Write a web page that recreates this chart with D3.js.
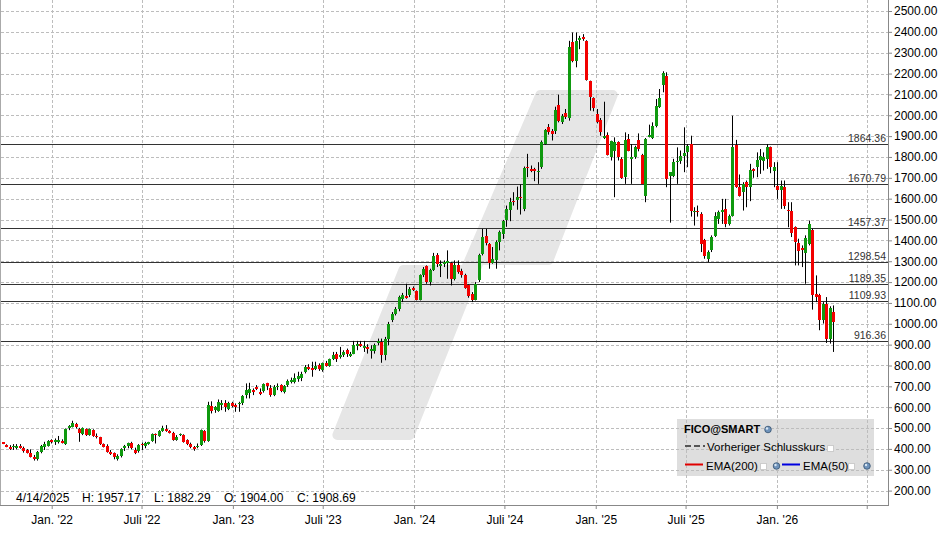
<!DOCTYPE html>
<html><head><meta charset="utf-8">
<script src="https://cdn.jsdelivr.net/npm/d3@7"></script>
<style>
body{margin:0;background:#fff}
svg{display:block;font-family:"Liberation Sans",Arial,Helvetica,sans-serif}
</style>
</head><body>
<svg id="c" width="948" height="534"></svg>
<script>
// ---------- data (weekly candles) ----------
const startDate = "2021-09-24";
const open = [
431,420,411,407,406,414,406,395,382,363,
353,385,411,415,442,433,434,438,423,500,
506,519,495,471,494,468,490,463,455,422,
415,387,379,351,366,404,415,426,395,391,
425,414,425,439,471,463,486,494,486,478,
442,465,466,442,423,411,407,419,486,439,
605,586,583,610,618,589,618,610,613,621,
658,666,682,698,675,679,714,693,658,698,
706,674,706,720,722,734,742,770,794,790,
784,802,778,813,798,830,857,841,849,873,
846,857,894,905,884,889,870,870,908,913,
852,929,1016,1045,1072,1120,1131,1136,1173,1155,
1115,1232,1275,1200,1256,1332,1275,1285,1291,1291,
1216,1280,1253,1232,1184,1144,1115,1208,1336,1423,
1384,1291,1307,1391,1431,1496,1548,1591,1594,1610,
1551,1754,1743,1743,1727,1751,1863,1946,1923,1923,
2051,1966,2012,1987,2352,2258,2360,2373,2354,2163,
2081,2006,1977,1891,1907,1802,1831,1870,1791,1703,
1886,1791,1799,1881,1811,1612,1898,1891,1948,2038,
2147,2190,1711,1711,1775,1783,1807,1822,1862,1535,
1543,1527,1400,1312,1352,1419,1503,1535,1551,1479,
1519,1859,1658,1631,1679,1655,1743,1751,1786,1783,
1791,1846,1735,1663,1642,1658,1547,1540,1463,1387,
1365,1339,1384,1448,1144,1136,1017,1093,929,1057];
const high = [
433,422,418,423,423,423,411,399,398,371,
390,419,434,442,446,450,462,446,498,514,
535,525,501,503,498,498,494,474,458,426,
422,395,383,374,403,419,430,434,406,423,
430,434,434,474,474,490,511,514,490,482,
466,474,470,446,430,414,426,493,490,626,
628,605,637,634,634,626,626,618,626,658,
714,717,690,706,690,714,717,706,706,714,
710,706,733,742,762,770,770,802,806,818,
818,810,814,822,833,865,865,889,873,881,
865,918,918,918,918,902,897,905,929,929,
937,1009,1056,1080,1135,1148,1192,1176,1179,1160,
1237,1272,1280,1264,1340,1339,1304,1304,1352,1296,
1304,1304,1264,1240,1189,1152,1200,1336,1455,1455,
1387,1368,1400,1447,1498,1567,1604,1631,1658,1668,
1754,1815,1759,1748,1775,1879,1934,1958,1934,2041,
2099,2006,2030,2357,2397,2397,2381,2389,2360,2166,
2086,2030,1987,2065,1918,1878,1894,1875,1799,1918,
1910,1862,1854,1913,1815,1891,1955,1966,2078,2126,
2211,2206,1727,1791,1846,1831,1942,1862,1902,1559,
1567,1535,1407,1352,1424,1535,1543,1599,1599,1524,
1998,1882,1716,1679,1687,1767,1746,1822,1838,1822,
1862,1850,1775,1775,1687,1687,1583,1583,1467,1408,
1376,1424,1495,1456,1232,1144,1104,1128,1084,1088];
const low = [
423,408,395,395,398,401,382,378,359,344,
344,379,395,411,426,419,426,426,419,490,
503,498,434,466,462,463,458,450,419,407,
382,371,350,344,359,390,403,398,375,382,
395,403,420,434,426,458,482,482,474,439,
439,462,430,418,403,391,403,414,430,434,
570,573,578,586,578,586,599,578,578,610,
642,642,658,682,658,670,682,650,653,682,
672,666,698,714,714,722,725,762,778,746,
778,774,770,794,794,826,817,833,841,841,
841,854,873,889,865,857,833,857,897,813,
825,897,1008,1040,1060,1104,1120,1128,1157,1112,
1112,1224,1192,1184,1253,1272,1224,1272,1216,1184,
1208,1240,1221,1168,1125,1104,1112,1200,1328,1376,
1264,1288,1264,1352,1407,1465,1492,1567,1547,1524,
1540,1703,1727,1684,1671,1743,1859,1907,1879,1910,
1966,1958,1982,1974,2254,2230,2317,2357,2166,2022,
2019,1961,1902,1886,1807,1783,1607,1783,1695,1671,
1827,1671,1791,1827,1671,1583,1894,1886,1942,2035,
2110,1655,1485,1703,1671,1767,1727,1751,1514,1471,
1514,1344,1312,1296,1344,1416,1479,1479,1463,1471,
1514,1652,1610,1543,1559,1588,1700,1703,1719,1735,
1743,1722,1655,1599,1551,1551,1463,1416,1280,1280,
1272,1192,1376,1068,1104,969,1001,908,905,865];
const close = [
425,411,399,414,414,406,390,382,363,351,
387,414,422,438,434,442,442,430,494,510,
522,503,474,498,468,494,463,455,423,411,
387,375,359,367,398,414,426,406,382,419,
417,426,433,471,465,486,498,486,478,442,
458,471,434,423,411,398,415,490,438,610,
583,599,626,621,599,621,607,602,621,653,
682,687,671,688,663,709,703,658,698,704,
677,703,725,730,738,749,757,794,784,778,
798,781,810,798,829,849,832,849,865,853,
857,897,905,892,894,877,881,897,918,849,
929,998,1048,1072,1128,1136,1123,1168,1163,1115,
1232,1264,1200,1259,1325,1285,1288,1296,1300,1213,
1280,1248,1232,1173,1133,1115,1192,1328,1415,1387,
1291,1312,1391,1439,1492,1551,1586,1583,1607,1601,
1748,1745,1732,1732,1735,1871,1930,1918,1910,2025,
1971,1998,1990,2329,2258,2354,2370,2364,2169,2089,
2035,1966,1918,1902,1811,1875,1870,1799,1700,1883,
1831,1799,1850,1838,1671,1888,1907,1950,2046,2083,
2201,1695,1727,1775,1783,1803,1818,1854,1543,1543,
1535,1384,1323,1344,1416,1519,1535,1546,1479,1519,
1850,1658,1615,1668,1658,1738,1735,1786,1807,1799,
1846,1751,1754,1642,1663,1567,1539,1435,1392,1347,
1352,1412,1480,1136,1128,1017,1093,929,1076,1009];

const levels = [1864.36, 1670.79, 1457.37, 1298.54, 1189.35, 1109.93, 916.36];
const yTicks = [200,300,400,500,600,700,800,900,1000,1100,1200,1300,1400,1500,1600,1700,1800,1900,2000,2100,2200,2300,2400,2500];
const xTickDates = ["2022-01-01","2022-07-01","2023-01-01","2023-07-01","2024-01-01","2024-07-01","2025-01-01","2025-07-01","2026-01-01","2026-07-01"];
const xTickLabels = ["Jan. '22","Juli '22","Jan. '23","Juli '23","Jan. '24","Juli '24","Jan. '25","Juli '25","Jan. '26",""];
const infoTexts = ["4/14/2025","H: 1957.17","L: 1882.29","O: 1904.00","C: 1908.69"];
const legendTitle = "FICO@SMART";
const legendItems = ["Vorheriger Schlusskurs","EMA(200)","EMA(50)"];

// ---------- layout ----------
const W = 948, H = 534;
const plotR = 888, plotB = 505;
const parse = d3.timeParse("%Y-%m-%d");
const x = d3.scaleTime().domain([parse("2022-01-01"), parse("2026-01-01")]).range([51.7, 776.9]);
const y = d3.scaleLinear().domain([200, 2500]).range([490.6, 11]);
const dates = open.map((_, i) => d3.timeWeek.offset(parse(startDate), i));
const candles = open.map((o, i) => ({d: dates[i], o, h: high[i], l: low[i], c: close[i]}));

const svg = d3.select("#c");
svg.append("rect").attr("width", W).attr("height", H).attr("fill", "#fff");

// watermark shape (rounded via stroke)
const wm = [[337.4,435],[403.4,270],[465.3,270],[540.3,95],[612.7,95],[548.5,260],[479.6,260],[409.6,435]];
svg.append("path")
  .attr("d", "M" + wm.map(p => p.join(",")).join("L") + "Z")
  .attr("fill", "#e6e6e6").attr("stroke", "#e6e6e6")
  .attr("stroke-width", 10).attr("stroke-linejoin", "round");

// legend box (under grid)
svg.append("rect").attr("x", 677).attr("y", 419).attr("width", 197).attr("height", 57).attr("fill", "#dedede");

// grid
const grid = svg.append("g").attr("stroke", "#bdbdbd").attr("stroke-dasharray", "3,2").attr("stroke-width", 1);
yTicks.forEach(v => {
  const yy = Math.round(y(v)) + 0.5;
  grid.append("line").attr("x1", 1).attr("x2", plotR).attr("y1", yy).attr("y2", yy);
});
xTickDates.forEach(ds => {
  const xx = Math.round(x(parse(ds))) + 0.5;
  grid.append("line").attr("x1", xx).attr("x2", xx).attr("y1", 0).attr("y2", plotB);
});

// level lines
const lv = svg.append("g");
levels.forEach(v => {
  const yy = Math.round(y(v)) + 0.5;
  lv.append("line").attr("x1", 0).attr("x2", plotR).attr("y1", yy).attr("y2", yy)
    .attr("stroke", "#333").attr("stroke-width", 1);
  lv.append("text").attr("x", 886).attr("y", yy - 3).attr("text-anchor", "end")
    .attr("font-size", 10.5).attr("fill", "#333").text(v.toFixed(2));
});

// candles
const cg = svg.append("g");
candles.forEach(k => {
  const cx = Math.round(x(k.d));
  cg.append("line").attr("x1", cx + 0.5).attr("x2", cx + 0.5)
    .attr("y1", y(k.h)).attr("y2", y(k.l)).attr("stroke", "#000").attr("stroke-width", 1);
  const top = Math.round(y(Math.max(k.o, k.c))), bot = Math.round(y(Math.min(k.o, k.c)));
  cg.append("rect").attr("x", cx - 1).attr("width", 3)
    .attr("y", top).attr("height", Math.max(1, bot - top))
    .attr("fill", k.c >= k.o ? "#0f990f" : "#f20000");
});

// frame
svg.append("line").attr("x1", 0.5).attr("x2", 0.5).attr("y1", 0).attr("y2", plotB).attr("stroke", "#aaa");
svg.append("line").attr("x1", 0).attr("x2", plotR).attr("y1", plotB + 0.5).attr("y2", plotB + 0.5).attr("stroke", "#888");
svg.append("line").attr("x1", plotR + 0.5).attr("x2", plotR + 0.5).attr("y1", 0).attr("y2", plotB + 1).attr("stroke", "#888");

// axes
const yAxis = d3.axisRight(y).tickValues(yTicks).tickFormat(d3.format(".2f")).tickSize(4).tickPadding(2);
const ya = svg.append("g").attr("transform", `translate(${plotR},0)`).call(yAxis);
ya.select(".domain").remove();
ya.selectAll("line").attr("stroke", "#888");
ya.selectAll("text").attr("font-size", 12).attr("fill", "#000");
ya.attr("font-family", null);

const xAxis = d3.axisBottom(x).tickValues(xTickDates.map(parse))
  .tickFormat((d, i) => xTickLabels[i]).tickSize(4).tickPadding(6);
const xa = svg.append("g").attr("transform", `translate(0,${plotB})`).call(xAxis);
xa.select(".domain").remove();
xa.selectAll("line").attr("stroke", "#888");
xa.selectAll("text").attr("font-size", 12).attr("fill", "#000");
xa.attr("font-family", null);

// info text
const infoX = [16, 82, 154, 224, 297];
infoTexts.forEach((t, i) => {
  svg.append("text").attr("x", infoX[i]).attr("y", 502).attr("font-size", 12).attr("fill", "#000").text(t);
});

// legend contents
const lg = svg.append("g");
function globe(cx, cy) {
  lg.append("circle").attr("cx", cx).attr("cy", cy).attr("r", 3.3)
    .attr("fill", "#6f93bb").attr("stroke", "#34506e").attr("stroke-width", 0.8);
  lg.append("circle").attr("cx", cx - 1).attr("cy", cy - 1).attr("r", 1.2).attr("fill", "#d8e6f2");
}
function box(x0, y0) {
  lg.append("rect").attr("x", x0 + 0.5).attr("y", y0 + 0.5).attr("width", 6).attr("height", 6)
    .attr("fill", "#fff").attr("stroke", "#ccc");
}
lg.append("text").attr("x", 684).attr("y", 433).attr("font-size", 11).attr("font-weight", "bold").text(legendTitle);
globe(768, 429.5);
lg.append("line").attr("x1", 685).attr("x2", 705).attr("y1", 446).attr("y2", 446)
  .attr("stroke", "#555").attr("stroke-width", 2).attr("stroke-dasharray", "6,3");
lg.append("text").attr("x", 707).attr("y", 451).attr("font-size", 11.5).text(legendItems[0]);
box(827, 445);
lg.append("line").attr("x1", 685).attr("x2", 703).attr("y1", 464.5).attr("y2", 464.5).attr("stroke", "#e00000").attr("stroke-width", 2);
lg.append("text").attr("x", 706).attr("y", 469.5).attr("font-size", 11.5).text(legendItems[1]);
box(760, 463);
globe(776.5, 466);
lg.append("line").attr("x1", 782).attr("x2", 800).attr("y1", 464.5).attr("y2", 464.5).attr("stroke", "#0000e0").attr("stroke-width", 2);
lg.append("text").attr("x", 803).attr("y", 469.5).attr("font-size", 11.5).text(legendItems[2]);
box(848, 463);
globe(867, 466);
</script>
</body></html>
